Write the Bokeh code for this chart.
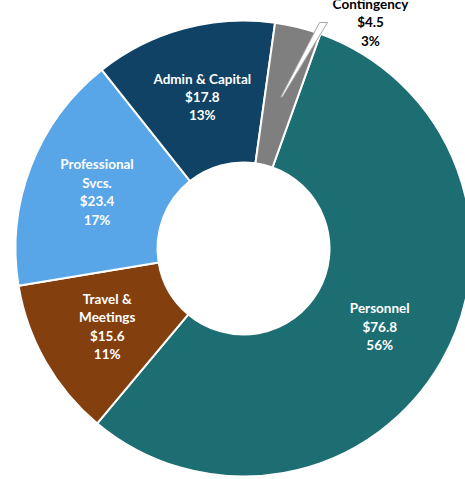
import numpy as np
from bokeh.plotting import figure
from bokeh.models import ColumnDataSource, Range1d
from bokeh.core.properties import value
from bokeh.embed import file_html
from bokeh.resources import INLINE

# ---- data ----
categories = ["Personnel", "Travel &\nMeetings", "Professional\nSvcs.", "Admin & Capital", "Contingency"]
values = [76.8, 15.6, 23.4, 17.8, 4.5]
colors = ["#1d6e73", "#843f0f", "#58a6e8", "#0f4264", "#7f7f7f"]

# ---- layout (page pixel coordinates) ----
W, H = 465, 479
PAGE_H = 479
CX, CY_PAGE = 243, 248
CY = PAGE_H - CY_PAGE
R_OUT, R_IN = 228, 86
FIRST_ANGLE = 19.7  # degrees clockwise from 12 o'clock

vals = np.array(values)
total = vals.sum()
frac = vals / total
cw_end = FIRST_ANGLE + np.cumsum(frac) * 360.0
cw_start = cw_end - frac * 360.0
cw_mid = (cw_start + cw_end) / 2.0

start_angle = np.radians(90.0 - cw_start)
end_angle = np.radians(90.0 - cw_end)

src = ColumnDataSource(dict(
    x=[CX] * len(vals), y=[CY] * len(vals),
    start=start_angle, end=end_angle, color=colors,
))

p = figure(width=W, height=H, x_range=Range1d(0, W), y_range=Range1d(PAGE_H - H, PAGE_H),
           output_backend="svg", toolbar_location=None, min_border=0,
           x_axis_type=None, y_axis_type=None, outline_line_color=None)
p.grid.visible = False
p.background_fill_color = "white"

p.annular_wedge(x="x", y="y", inner_radius=R_IN, outer_radius=R_OUT,
                start_angle="start", end_angle="end", direction="clock",
                fill_color="color", line_color="white", line_width=2, source=src)

# inside labels
r_lab = (R_IN + R_OUT) / 2.0
lab_x, lab_y, lab_t = [], [], []
for i in range(4):
    a = np.radians(cw_mid[i])
    lab_x.append(CX + r_lab * np.sin(a))
    lab_y.append(CY + r_lab * np.cos(a))
    lab_t.append(f"{categories[i]}\n${values[i]:.1f}\n{frac[i]*100:.0f}%")

p.text(x=lab_x, y=lab_y, text=lab_t, text_color="white", text_font=value("Lato"),
       text_font_style="bold", text_font_size="13.5px", text_align="center",
       text_baseline="middle", text_line_height=1.15)

# callout for the small slice
a = np.radians(cw_mid[4])
tip_x = CX + 156 * np.sin(a)
tip_y = CY + 156 * np.cos(a)
p.patch(x=[tip_x, 319, 327, tip_x + 1.5], y=[tip_y, PAGE_H - 22, PAGE_H - 22, tip_y],
        fill_color="white", line_color="#a6a6a6", line_width=1)

p.text(x=[370], y=[PAGE_H - 22],
       text=[f"{categories[4]}\n${values[4]:.1f}\n{frac[4]*100:.0f}%"],
       text_color="black", text_font=value("Lato"), text_font_style="bold",
       text_font_size="13.5px", text_align="center", text_baseline="middle",
       text_line_height=1.15)

open("out.html", "w").write(file_html(p, INLINE))
